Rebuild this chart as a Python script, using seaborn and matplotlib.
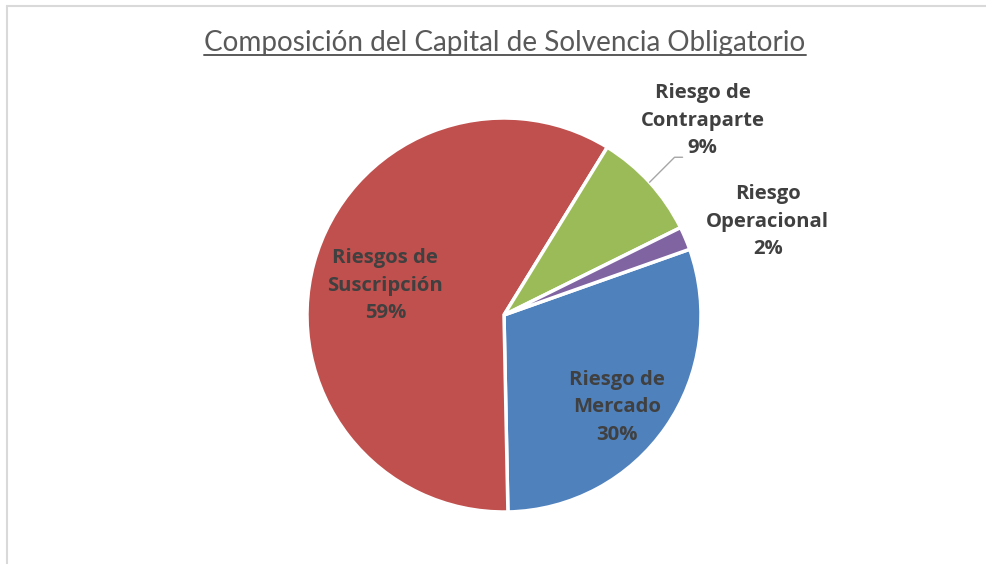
import numpy as np
import matplotlib.pyplot as plt
import seaborn as sns
from matplotlib.lines import Line2D

# datos del gráfico
categorias = ["Riesgo de\nMercado", "Riesgos de\nSuscripción", "Riesgo de\nContraparte", "Riesgo\nOperacional"]
valores = [30.1, 59.1, 8.9, 1.9]
etiquetas_pct = ["30%", "59%", "9%", "2%"]
colores = ["#4F81BD", "#C0504D", "#9BBB59", "#8064A2"]

sns.set_style("white")
plt.rcParams['font.family'] = ['Lato', 'DejaVu Sans']

fig = plt.figure(figsize=(9.87, 5.64), dpi=100)
ax = fig.add_axes([0, 0, 1, 1])

centro = (504, 249)
radio = 197
inicio = 19.5

wedges, _ = ax.pie(valores, colors=colores, startangle=inicio, counterclock=False,
                   center=centro, radius=radio, frame=True,
                   wedgeprops=dict(edgecolor='white', linewidth=2.5))
ax.set_xlim(0, 987)
ax.set_ylim(0, 564)
ax.set_aspect('equal')
ax.axis('off')

# posición de las etiquetas (fracción del radio, desfase angular)
dist = [0.74, 0.62, 1.41, 1.42]
desfase = [-4.5, 1.5, 2.0, -3.4]
for w, cat, pct, d, off in zip(wedges, categorias, etiquetas_pct, dist, desfase):
    ang = np.deg2rad((w.theta1 + w.theta2) / 2 + off)
    x = centro[0] + radio * d * np.cos(ang)
    y = centro[1] + radio * d * np.sin(ang)
    ax.text(x, y, f"{cat}\n{pct}", ha='center', va='center', fontsize=14.6,
            fontweight='bold', color='#404040', linespacing=1.5,
            family=['Open Sans', 'DejaVu Sans'])

# línea guía para Contraparte
w = wedges[2]
ang = np.deg2rad((w.theta1 + w.theta2) / 2)
x0 = centro[0] + radio * np.cos(ang)
y0 = centro[1] + radio * np.sin(ang)
ax.plot([x0, x0 + 25, x0 + 33], [y0, y0 + 25, y0 + 25], color='#A6A6A6', lw=1)

# título subrayado
t = ax.text(505, 521, "Composición del Capital de Solvencia Obligatorio", ha='center',
            va='center', fontsize=20.1, color='#595959')
fig.canvas.draw()
bb = t.get_window_extent().transformed(ax.transData.inverted())
ax.plot([bb.x0, bb.x1], [bb.y0 + 1, bb.y0 + 1], color='#595959', lw=1.4)

# borde del gráfico
fig.add_artist(Line2D([7 / 987, 1], [1 - 5.5 / 564, 1 - 5.5 / 564], color='#D9D9D9', lw=1.5))
fig.add_artist(Line2D([7.5 / 987, 7.5 / 987], [0, 1 - 5.5 / 564], color='#D9D9D9', lw=1.5))

fig.savefig("out.png", dpi=100)
